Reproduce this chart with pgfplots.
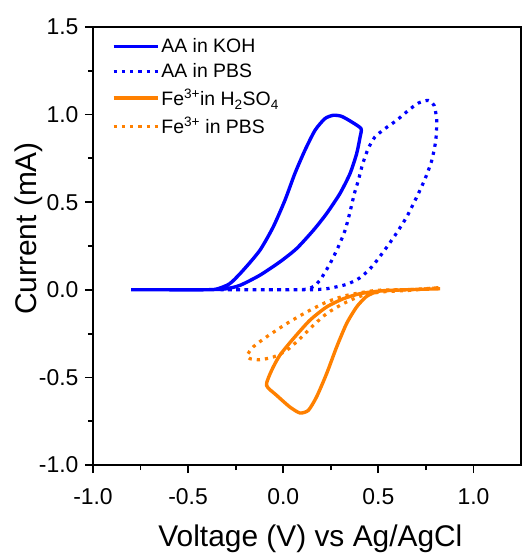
\documentclass[border=0pt]{standalone}
\usepackage{fontspec}
\setmainfont{Liberation Sans}
\usepackage{pgfplots}
\pgfplotsset{compat=1.18}
\definecolor{myblue}{RGB}{0,0,255}
\definecolor{myorange}{RGB}{255,128,0}
\begin{document}
\begin{tikzpicture}
\begin{axis}[name=ax, scale only axis, width=428bp, height=438bp,
 xmin=-1, xmax=1.25, ymin=-1, ymax=1.5,
 xtick={-1,-0.5,0,0.5,1}, xticklabels={-1.0,-0.5,0.0,0.5,1.0},
 ytick={-1,-0.5,0,0.5,1,1.5}, yticklabels={-1.0,-0.5,0.0,0.5,1.0,1.5},
 minor x tick num=1, minor y tick num=1,
 xtick pos=bottom, ytick pos=left, tick align=outside,
 major tick length=8bp, minor tick length=5bp,
 tick style={black, line width=1.8bp},
 axis line style={line width=2.4bp},
 tick label style={font=\fontsize{23}{27}\selectfont},
 xticklabel style={yshift=-12bp},
 yticklabel style={xshift=-3bp},
 xlabel={Voltage (V) vs Ag/AgCl}, ylabel={Current (mA)},
 label style={font=\fontsize{30}{34}\selectfont},
 xlabel style={at={(axis description cs:0.508,-0.186)}, anchor=base},
 ylabel style={at={(axis description cs:-0.131,0.54)}, anchor=base},
 legend cell align=left,
 legend style={at={(axis description cs:0.044,0.978)}, anchor=north west, draw=none, fill=none,
   font=\fontsize{19.5}{22}\selectfont, row sep=5.5bp, inner sep=0pt,
   /tikz/every even column/.append style={column sep=4bp}},
 legend image code/.code={\draw[#1] (0bp,0bp) -- (44bp,0bp);},
]
% AA in KOH
\addplot[myblue, line width=3.4bp, line join=round, smooth, tension=0.4] coordinates {
(-0.80,0.0) (-0.60,0.0) (-0.42,0.0) (-0.351,0.004) (-0.281,0.035) (-0.211,0.111) (-0.123,0.225)
(-0.053,0.358) (0.009,0.511) (0.061,0.663) (0.114,0.796) (0.167,0.910)
(0.219,0.977) (0.263,0.996) (0.307,0.990) (0.360,0.958) (0.409,0.920)
(0.404,0.872) (0.386,0.777) (0.351,0.663) (0.298,0.549) (0.228,0.435)
(0.158,0.339) (0.070,0.235) (-0.018,0.159) (-0.123,0.083) (-0.228,0.025)
(-0.298,0.006) (-0.351,0.002) (-0.42,0.0) (-0.60,0.0) (-0.80,0.0)
};
\addlegendentry{AA in KOH}
% AA in PBS
\addplot[myblue, line width=3.2bp, dash pattern=on 3.2bp off 5bp, smooth, tension=0.4] coordinates {
(-0.33,0.0) (0.0,0.0) (0.120,0.003) (0.160,0.020) (0.193,0.054) (0.246,0.149) (0.289,0.244)
(0.325,0.339) (0.351,0.444) (0.374,0.549) (0.395,0.625) (0.418,0.720)
(0.447,0.806) (0.482,0.872) (0.535,0.920) (0.596,0.967) (0.658,1.024)
(0.711,1.066) (0.763,1.081) (0.793,1.053) (0.807,0.967) (0.802,0.853)
(0.781,0.739) (0.746,0.634) (0.702,0.530) (0.649,0.416) (0.588,0.311)
(0.526,0.216) (0.465,0.130) (0.404,0.069) (0.333,0.031) (0.228,0.006)
(0.140,0.0) (0.0,0.0) (-0.33,0.0)
};
\addlegendentry{AA in PBS}
% Fe3+ in H2SO4
\addplot[myorange, line width=3.4bp, line join=round, smooth, tension=0.4] coordinates {
(0.825,0.006) (0.667,0.001) (0.509,-0.007) (0.404,-0.022) (0.316,-0.051)
(0.228,-0.098) (0.140,-0.174) (0.053,-0.279) (-0.018,-0.374) (-0.061,-0.460)
(-0.088,-0.545) (-0.035,-0.602) (0.035,-0.669) (0.088,-0.703) (0.132,-0.688)
(0.175,-0.612) (0.228,-0.479) (0.281,-0.326) (0.333,-0.193) (0.386,-0.098)
(0.439,-0.037) (0.509,-0.007) (0.667,0.001) (0.825,0.006)
};
\addlegendentry{Fe\textsuperscript{3+}in H\textsubscript{2}SO\textsubscript{4}}
% Fe3+ in PBS
\addplot[myorange, line width=3.2bp, dash pattern=on 3.2bp off 5bp, smooth, tension=0.4] coordinates {
(0.816,0.012) (0.667,0.001) (0.491,-0.003) (0.333,-0.032) (0.228,-0.070)
(0.123,-0.127) (0.018,-0.193) (-0.088,-0.269) (-0.158,-0.326) (-0.189,-0.374)
(-0.175,-0.393) (-0.123,-0.399) (-0.053,-0.384) (0.018,-0.346) (0.088,-0.279)
(0.158,-0.203) (0.228,-0.136) (0.316,-0.079) (0.404,-0.037) (0.509,-0.013)
(0.667,-0.003) (0.816,0.012)
};
\addlegendentry{Fe\textsuperscript{3+} in PBS}
\end{axis}
\pgfresetboundingbox
\path[use as bounding box] ([shift={(-93bp,-89bp)}]ax.south west) rectangle ([shift={(1bp,27bp)}]ax.north east);
\end{tikzpicture}
\end{document}
